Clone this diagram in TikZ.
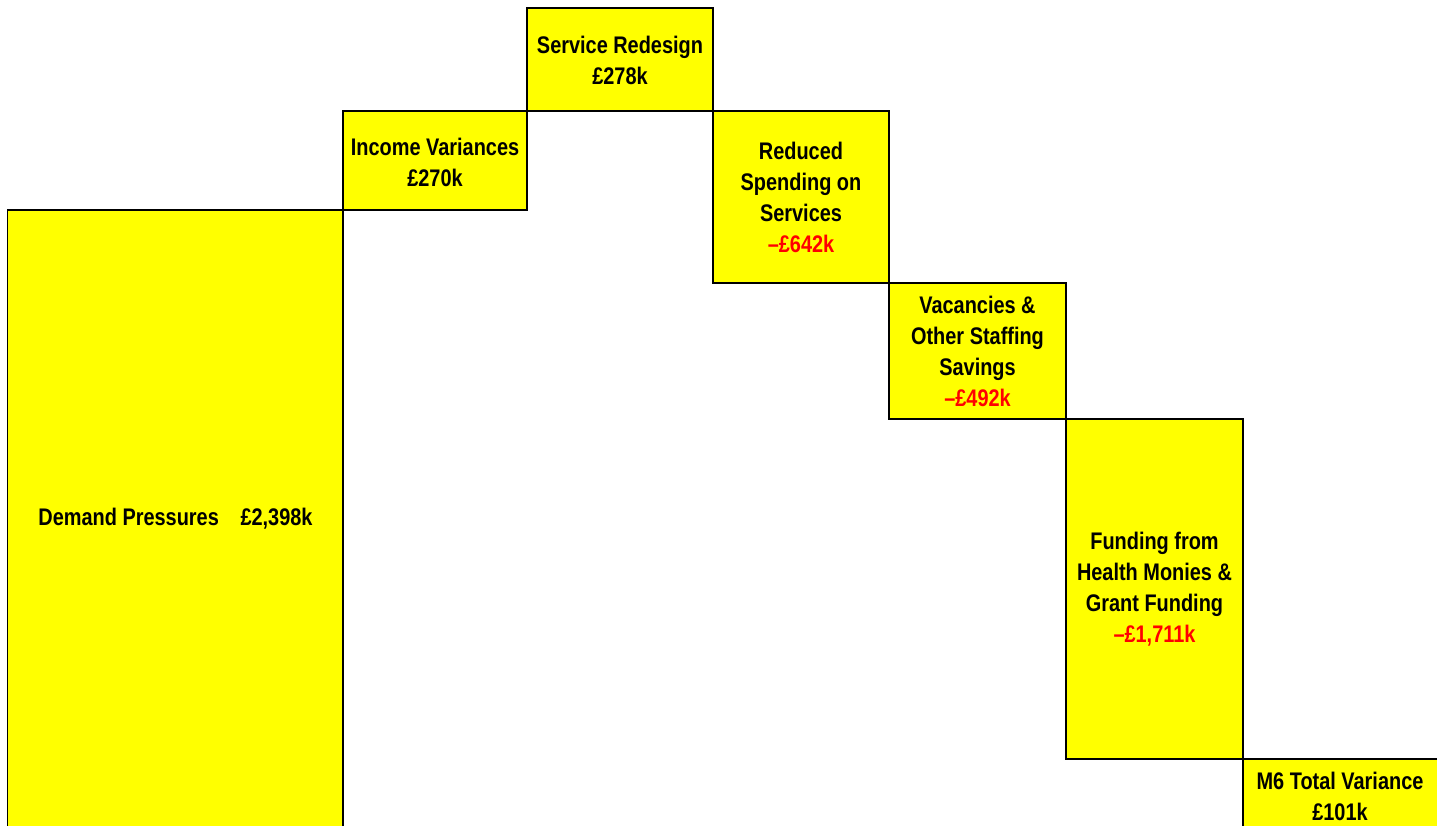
\documentclass[tikz,border=0pt]{standalone}
\usepackage{fontspec}
\newfontfamily\barfont[FakeStretch=0.83]{Liberation Sans}
\definecolor{baryellow}{RGB}{255,255,0}
\definecolor{negred}{RGB}{255,0,0}
\begin{document}
\begin{tikzpicture}[x=1pt,y=-1pt,
  bar/.style={draw=black, line width=1.4pt, fill=baryellow, rectangle, inner sep=0pt, outer sep=0pt},
  lbl/.style={align=center, font=\barfont\bfseries\fontsize{24}{31}\selectfont, inner sep=0pt, text=black}]
\useasboundingbox (0,0) rectangle (1437,825);
\clip (0,0) rectangle (1437,825);
% bars (left x, top y, right x, bottom y)
\path[bar] (7.5,210) rectangle (343,840);
\path[bar] (343,111) rectangle (527,210);
\path[bar] (527,8) rectangle (713,111);
\path[bar] (713,111) rectangle (889,283);
\path[bar] (889,283) rectangle (1066,419);
\path[bar] (1066,419) rectangle (1243,759);
\path[bar] (1243,759) rectangle (1437.5,840);
% labels
\node[lbl] (demand) at (175.5,519) {Demand Pressures\hspace{0.9em}£2,398k};
\node[lbl] (income) at (435,162) {Income Variances\\£270k};
\node[lbl] (service) at (620,60) {Service Redesign\\£278k};
\node[lbl] (reduced) at (801,197) {Reduced\\Spending on\\Services\\\textcolor{negred}{\textendash£642k}};
\node[lbl] (vacancies) at (977.5,351) {Vacancies \&\\Other Staffing\\Savings\\\textcolor{negred}{\textendash£492k}};
\node[lbl] (funding) at (1154.5,589.5) {Funding from\\Health Monies \&\\Grant Funding\\\textcolor{negred}{\textendash£1,711k}};
\node[lbl] (total) at (1340,796) {M6 Total Variance\\£101k};
\end{tikzpicture}
\end{document}
